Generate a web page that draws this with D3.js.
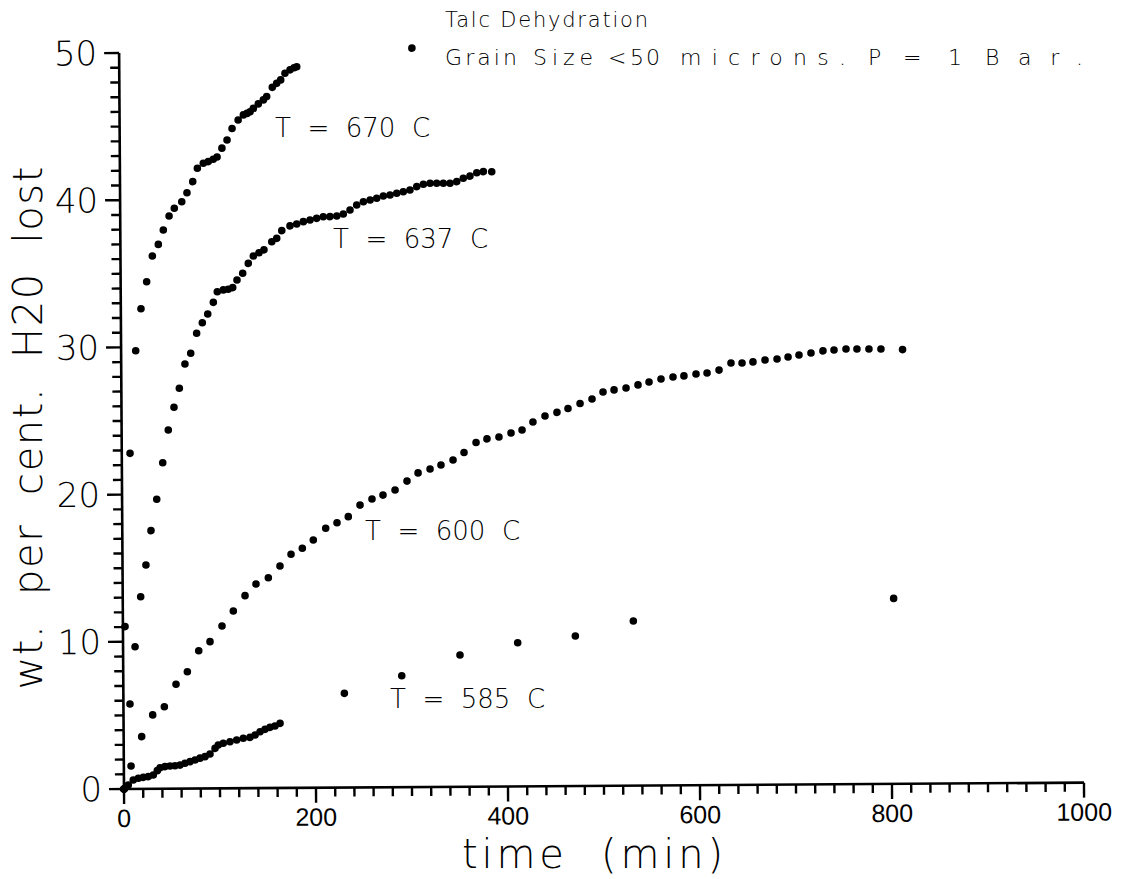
<!DOCTYPE html>
<html><head><meta charset="utf-8">
<script src="https://cdn.jsdelivr.net/npm/d3@7"></script>
<style>
body{margin:0;background:#fff}
svg{display:block;background:#fff}
text{fill:#000}
</style>
</head><body>
<svg id="chart" width="1131" height="879"></svg>
<script>
// ---------- data ----------
const xTicks = [0, 200, 400, 600, 800, 1000];
const yTicks = [0, 10, 20, 30, 40, 50];

const t670 = [0, 2.2, 8.6, 15.2, 21.0, 27.1, 33.2, 39.5, 44.8, 50.9, 56.4, 64.2, 69.7, 75.8, 80.7, 86.9, 92.1, 97.3, 101.3, 106.4, 111.8, 117.1, 123.5, 129.0, 132.8, 136.0, 139.4, 144.6, 149.9, 153.4, 159.3, 163.9, 168.1, 172.6, 177.9, 182.1, 184.9];
const w670 = [0, 11.03, 22.80, 29.77, 32.62, 34.45, 36.20, 36.98, 37.96, 38.91, 39.43, 39.87, 40.48, 41.23, 42.14, 42.47, 42.58, 42.74, 42.89, 43.49, 44.04, 44.82, 45.40, 45.74, 45.84, 45.95, 46.18, 46.48, 46.75, 46.97, 47.60, 47.87, 48.10, 48.55, 48.78, 48.92, 48.99];

const t637 = [0, 6.8, 12.5, 18.7, 24.4, 29.9, 36.1, 42.6, 48.6, 54.7, 60.4, 66.4, 72.5, 78.8, 84.8, 90.5, 96.4, 100.6, 106.9, 112.0, 116.7, 121.2, 127.2, 133.1, 138.4, 144.3, 149.5, 157.7, 162.9, 168.2, 176.8, 183.8, 190.7, 197.7, 204.6, 211.5, 218.5, 225.6, 232.4, 239.4, 246.4, 253.4, 260.4, 267.3, 274.2, 281.2, 288.2, 295.0, 302.0, 309.1, 316.0, 323.0, 329.9, 336.8, 343.8, 350.8, 357.6, 364.6, 371.7, 378.6, 387.3];
const w637 = [0, 5.77, 9.66, 13.05, 15.21, 17.54, 19.67, 22.15, 24.37, 25.91, 27.20, 28.84, 29.57, 30.93, 31.64, 32.23, 33.02, 33.74, 33.86, 33.90, 34.01, 34.53, 34.98, 35.65, 36.15, 36.37, 36.56, 37.11, 37.34, 37.86, 38.18, 38.30, 38.46, 38.57, 38.68, 38.79, 38.79, 38.83, 38.96, 39.23, 39.57, 39.79, 39.90, 40.02, 40.17, 40.23, 40.35, 40.45, 40.56, 40.79, 40.95, 41.01, 41.01, 41.01, 41.00, 41.11, 41.34, 41.48, 41.71, 41.78, 41.77];

const t600 = [0, 7.5, 18.8, 30.4, 42.6, 54.9, 66.8, 78.8, 90.6, 103.2, 115.1, 127.4, 138.9, 151.8, 164.0, 175.6, 187.4, 198.9, 211.9, 223.7, 235.5, 247.8, 260.3, 271.8, 284.4, 296.9, 308.5, 321.0, 332.4, 345.0, 356.5, 369.1, 380.5, 393.0, 405.6, 417.1, 428.5, 441.1, 453.6, 465.1, 477.7, 490.2, 501.7, 513.2, 525.7, 538.2, 549.7, 562.2, 574.7, 586.1, 598.7, 610.2, 622.7, 635.2, 646.7, 658.1, 670.7, 683.2, 694.7, 706.1, 718.6, 731.1, 742.6, 755.1, 766.5, 779.0, 791.5];
const w600 = [0, 1.56, 3.55, 5.02, 5.57, 7.09, 7.94, 9.36, 9.97, 11.03, 12.04, 13.08, 13.87, 14.29, 15.08, 15.87, 16.27, 16.83, 17.62, 17.99, 18.40, 19.18, 19.59, 19.85, 20.19, 20.79, 21.34, 21.60, 21.87, 22.20, 22.71, 23.38, 23.62, 23.74, 24.01, 24.21, 24.75, 25.15, 25.39, 25.65, 25.98, 26.28, 26.75, 26.89, 27.01, 27.22, 27.41, 27.61, 27.74, 27.81, 27.93, 28.00, 28.19, 28.67, 28.66, 28.73, 28.85, 28.92, 29.05, 29.18, 29.31, 29.45, 29.50, 29.57, 29.56, 29.55, 29.55];

const t585 = [0, 4.5, 9.7, 15.0, 20.2, 25.4, 30.6, 34.8, 37.7, 42.9, 48.1, 53.3, 58.5, 63.7, 69.0, 74.2, 79.4, 84.6, 89.8, 95.1, 98.5, 103.7, 110.7, 117.7, 124.6, 131.6, 136.9, 142.1, 147.3, 152.5, 157.7, 163.0, 230.2, 290.1, 350.9, 411.1, 471.2, 531.7];
const w585 = [0, 0.27, 0.61, 0.72, 0.78, 0.83, 0.94, 1.23, 1.43, 1.50, 1.54, 1.56, 1.60, 1.72, 1.83, 1.94, 2.06, 2.16, 2.34, 2.72, 2.95, 3.06, 3.16, 3.28, 3.39, 3.45, 3.61, 3.83, 3.99, 4.12, 4.21, 4.39, 6.40, 7.57, 8.95, 9.76, 10.19, 11.18];

// isolated points that stand apart from the curves
const tStray = [305, 803, 814];
const wStray = [50.2, 12.6, 29.5];

const seriesNames = ["T  =  670  C", "T  =  637  C", "T  =  600  C", "T  =  585  C"];
const titleLine1 = "Talc Dehydration";
const titleLine2Words = ["Grain", "Size", "<", "50", "microns.", "P", "=", "1", "Bar."];
const xTitle = "time  (min)";
const yTitle = "wt.  per  cent.  H20  lost";

// ---------- drawing ----------
const svg = d3.select("#chart");
const x = d3.scaleLinear().domain([0, 1000]).range([124, 1084]);
const y = d3.scaleLinear().domain([0, 50]).range([789, 53]);
const FONT = "'DejaVu Sans', sans-serif";
const LIGHT = 300;

// the scanned plot is very slightly rotated
const g = svg.append("g").attr("transform", "rotate(-0.38,124,789)");

// axis lines
g.append("line").attr("x1", x(0)).attr("x2", x(1000)).attr("y1", y(0)).attr("y2", y(0))
  .attr("stroke", "#000").attr("stroke-width", 2.6);
g.append("line").attr("x1", x(0)).attr("x2", x(0)).attr("y1", y(0) + 1).attr("y2", y(50))
  .attr("stroke", "#000").attr("stroke-width", 2.6);

// x ticks (minor every 20, major every 200)
g.append("g").attr("class", "xticks").selectAll("line").data(d3.range(0, 1001, 20)).join("line")
  .attr("x1", d => x(d)).attr("x2", d => x(d))
  .attr("y1", y(0)).attr("y2", d => y(0) + (xTicks.includes(d) ? 15 : 9))
  .style("stroke", "#000").style("stroke-width", "2.4px");
g.append("g").selectAll("text").data(xTicks).join("text")
  .attr("x", d => x(d)).attr("y", y(0) + 38)
  .attr("text-anchor", "middle")
  .attr("font-family", "'Liberation Sans', Arial, sans-serif").attr("font-size", 25)
  .text(d3.format("d"));

// y ticks (minor every 1, major every 10)
g.append("g").attr("class", "yticks").selectAll("line").data(d3.range(0, 51, 1)).join("line")
  .attr("y1", d => y(d)).attr("y2", d => y(d))
  .attr("x1", x(0)).attr("x2", d => x(0) - (yTicks.includes(d) ? 15 : 9))
  .style("stroke", "#000").style("stroke-width", "2.4px");
g.append("g").selectAll("text").data(yTicks).join("text")
  .attr("x", x(0) - 22).attr("y", d => y(d) + 12)
  .attr("text-anchor", "end")
  .attr("font-family", FONT).attr("font-weight", LIGHT).attr("font-size", 34)
  .text(d3.format("d"));

// points
const allSeries = [[t670, w670], [t637, w637], [t600, w600], [t585, w585], [tStray, wStray]];
allSeries.forEach(([ts, ws]) => {
  g.append("g").selectAll("circle")
    .data(ts.map((t, i) => [t, ws[i]]))
    .join("circle")
    .attr("cx", d => x(d[0]))
    .attr("cy", d => y(d[1]))
    .attr("r", 3.8)
    .attr("fill", "#000");
});

// series labels
const labelPos = [[275, 137], [333, 248], [365, 540], [390, 708]];
seriesNames.forEach((s, i) => {
  svg.append("text").attr("x", labelPos[i][0]).attr("y", labelPos[i][1])
    .attr("font-family", FONT).attr("font-weight", LIGHT)
    .attr("font-size", 26).style("white-space", "pre").text(s);
});

// titles
svg.append("text").attr("x", 445).attr("y", 27)
  .attr("font-family", FONT).attr("font-weight", LIGHT)
  .attr("font-size", 21).attr("textLength", 203).attr("lengthAdjust", "spacing")
  .text(titleLine1);
const wordX = [445, 533, 608, 630, 680, 868, 903, 948, 985];
const wordW = [72, 60, 13, 30, 166, 16, 20, 12, 98];
const t2 = svg.append("text").attr("y", 65)
  .attr("font-family", FONT).attr("font-weight", LIGHT).attr("font-size", 22);
titleLine2Words.forEach((w, i) => {
  if (i) t2.append("tspan").text(" ");
  t2.append("tspan").attr("x", wordX[i])
    .attr("textLength", wordW[i]).attr("lengthAdjust", "spacing")
    .text(w);
});

// axis titles
svg.append("text").attr("x", 462).attr("y", 868)
  .attr("font-family", FONT).attr("font-weight", LIGHT)
  .attr("font-size", 40).attr("textLength", 261).attr("lengthAdjust", "spacing")
  .style("white-space", "pre").text(xTitle);
svg.append("text").attr("transform", "translate(42,428) rotate(-90)")
  .attr("text-anchor", "middle")
  .attr("font-family", FONT).attr("font-weight", LIGHT)
  .attr("font-size", 40).attr("textLength", 523).attr("lengthAdjust", "spacing")
  .style("white-space", "pre").text(yTitle);
</script>
</body></html>
